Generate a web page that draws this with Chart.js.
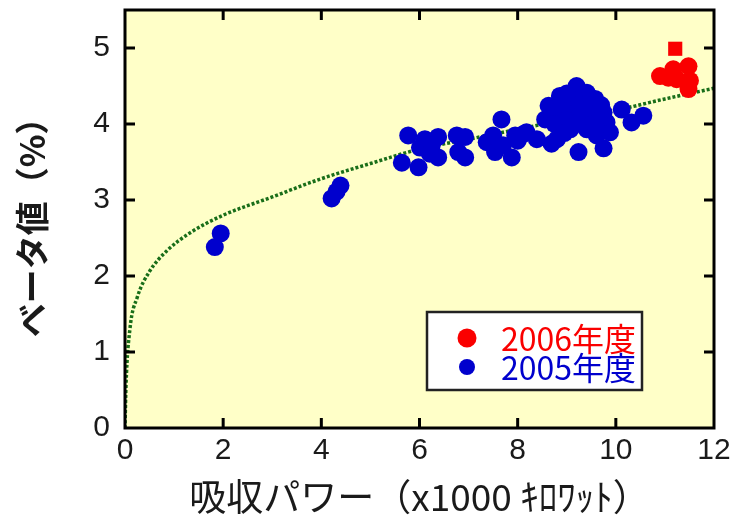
<!DOCTYPE html>
<html>
<head>
<meta charset="utf-8">
<script src="https://cdn.jsdelivr.net/npm/chart.js@4.4.1/dist/chart.umd.min.js"></script>
<style>
  html, body { margin: 0; padding: 0; background: #fff; }
  #wrap { width: 739px; height: 529px; }
</style>
</head>
<body>
<div id="wrap"><canvas id="betaChart"></canvas></div>
<script>
// data
const xTicks = [0, 2, 4, 6, 8, 10, 12];
const yTicks = [0, 1, 2, 3, 4, 5];

const labels2006 = '2006年度';
const labels2005 = '2005年度';

const redX = [10.90, 11.07, 11.17, 11.24, 11.48, 11.51, 11.48];
const redY = [4.63, 4.61, 4.72, 4.59, 4.76, 4.57, 4.46];

const squareX = [11.21];
const squareY = [4.99];

const blueX = [1.83, 1.95,
    4.21, 4.31, 4.39,
    5.77, 5.64, 5.98, 6.11, 6.38, 6.21, 6.38, 6.01, 6.25, 6.76, 6.93, 6.79, 6.93,
    7.37, 7.67, 7.54, 7.88, 7.95, 8.18, 8.39, 7.50, 7.70, 8.00, 8.12,
    8.69, 8.80, 8.63, 8.86, 9.00, 9.20, 9.41, 9.58, 9.75, 9.81, 9.41, 9.07, 8.86, 8.56,
    9.27, 9.61, 9.24, 9.75, 9.88, 9.10, 9.30, 9.50, 8.70,
    8.90, 9.00, 9.20, 9.35, 9.50, 9.65, 9.15, 8.75, 9.00, 9.60, 9.70, 8.95,
    10.12, 10.32, 10.56];
const blueY = [2.38, 2.56,
    3.02, 3.11, 3.19,
    3.85, 3.49, 3.43, 3.80, 3.83, 3.61, 3.56, 3.69, 3.72, 3.85, 3.83, 3.63, 3.56,
    3.76, 4.06, 3.63, 3.56, 3.85, 3.89, 3.80, 3.85, 3.72, 3.78, 3.87,
    3.74, 3.80, 4.24, 4.37, 4.19, 4.50, 4.41, 4.33, 4.15, 4.02, 3.93, 3.93, 3.98, 4.06,
    4.15, 3.85, 3.63, 3.68, 3.89, 4.30, 4.28, 4.10, 4.10,
    4.25, 4.05, 4.00, 4.20, 4.25, 4.05, 4.35, 4.00, 4.40, 3.95, 4.25, 3.88,
    4.19, 4.02, 4.11];

// fitted curve, sampled by eye
const fitX = [0, 0.02, 0.1, 0.25, 0.5, 0.85, 1.33, 2, 3, 4, 5, 6, 7, 8, 9, 10, 11, 12];
const fitY = [0, 0.55, 1.3, 1.72, 2.06, 2.33, 2.57, 2.8, 3.04, 3.28, 3.48, 3.67, 3.8, 3.93, 4.06, 4.18, 4.33, 4.47];

const toPoints = (xs, ys) => xs.map((x, i) => ({ x: x, y: ys[i] }));

const RED = 'rgb(250, 0, 0)';
const BLUE = 'rgb(0, 0, 205)';
const GREEN = 'rgb(25, 110, 25)';
const TICK_FONT = { family: '"Liberation Sans", Arial, sans-serif', size: 30 };

// yellow plot background
const plotBackground = {
    id: 'plotBackground',
    beforeDraw(chart) {
        const { ctx, chartArea: a } = chart;
        ctx.save();
        ctx.fillStyle = 'rgb(255, 255, 200)';
        ctx.fillRect(a.left, a.top, a.right - a.left, a.bottom - a.top);
        ctx.restore();
    }
};

// black frame with inward tick marks on all four sides
const frameTicks = {
    id: 'frameTicks',
    afterDatasetsDraw(chart) {
        const { ctx, chartArea: a, scales } = chart;
        const len = 10;
        ctx.save();
        ctx.strokeStyle = '#000';
        ctx.lineWidth = 3;
        xTicks.forEach(v => {
            if (v === xTicks[0] || v === xTicks[xTicks.length - 1]) return;
            const px = scales.x.getPixelForValue(v);
            ctx.beginPath();
            ctx.moveTo(px, a.bottom); ctx.lineTo(px, a.bottom - len);
            ctx.moveTo(px, a.top); ctx.lineTo(px, a.top + len);
            ctx.stroke();
        });
        yTicks.forEach(v => {
            if (v === 0) return;
            const py = scales.y.getPixelForValue(v);
            ctx.beginPath();
            ctx.moveTo(a.left, py); ctx.lineTo(a.left + len, py);
            ctx.moveTo(a.right, py); ctx.lineTo(a.right - len, py);
            ctx.stroke();
        });
        ctx.strokeRect(a.left, a.top, a.right - a.left, a.bottom - a.top);
        ctx.restore();
    }
};

// boxed legend in the lower right of the plot
const boxLegend = {
    id: 'boxLegend',
    afterDraw(chart) {
        const { ctx, chartArea: a } = chart;
        const items = chart.data.datasets.filter(d => d.inLegend);
        const w = 215, h = 78;
        const x0 = a.right - 72 - w, y0 = a.bottom - 38 - h;
        ctx.save();
        ctx.fillStyle = '#fff';
        ctx.fillRect(x0, y0, w, h);
        ctx.strokeStyle = '#222';
        ctx.lineWidth = 2.5;
        ctx.strokeRect(x0, y0, w, h);
        ctx.font = '32px "Liberation Sans Narrow", "Noto Sans CJK JP", sans-serif';
        ctx.textBaseline = 'middle';
        items.forEach((d, i) => {
            const cy = y0 + 26 + i * 29;
            ctx.fillStyle = d.backgroundColor;
            ctx.beginPath();
            ctx.arc(x0 + 40, cy, d.legendRadius, 0, Math.PI * 2);
            ctx.fill();
            ctx.fillText(d.label, x0 + 74, cy + 1);
        });
        ctx.restore();
    }
};

// drop the automatic label padding so the plot frame fills the layout padding
const noLabelPadding = scale => {
    scale.paddingTop = 0;
    scale.paddingBottom = 0;
    scale.paddingLeft = 0;
    scale.paddingRight = 0;
};

document.addEventListener('DOMContentLoaded', () => {
    const ctx = document.getElementById('betaChart').getContext('2d');
    new Chart(ctx, {
        type: 'scatter',
        data: {
            datasets: [
                {
                    label: labels2006,
                    inLegend: true,
                    legendRadius: 9.5,
                    data: toPoints(redX, redY),
                    backgroundColor: RED,
                    borderColor: RED,
                    pointRadius: 9,
                    borderWidth: 0
                },
                {
                    label: labels2006 + ' ',
                    data: toPoints(squareX, squareY),
                    backgroundColor: RED,
                    borderColor: RED,
                    pointStyle: 'rect',
                    pointRadius: 10,
                    borderWidth: 0
                },
                {
                    label: labels2005,
                    inLegend: true,
                    legendRadius: 8,
                    data: toPoints(blueX, blueY),
                    backgroundColor: BLUE,
                    borderColor: BLUE,
                    pointRadius: 9,
                    borderWidth: 0
                },
                {
                    label: 'fit',
                    type: 'line',
                    data: toPoints(fitX, fitY),
                    borderColor: GREEN,
                    borderWidth: 3.5,
                    borderDash: [3, 2],
                    pointRadius: 0,
                    fill: false,
                    cubicInterpolationMode: 'monotone'
                }
            ]
        },
        options: {
            responsive: true,
            maintainAspectRatio: false,
            animation: false,
            layout: { padding: { left: 0, right: 25, top: 8, bottom: 0 } },
            plugins: {
                legend: { display: false },
                tooltip: { enabled: false }
            },
            scales: {
                x: {
                    type: 'linear',
                    min: 0,
                    max: 12,
                    afterBuildTicks: scale => { scale.ticks = xTicks.map(v => ({ value: v })); },
                    afterFit: scale => { scale.height = 101; noLabelPadding(scale); },
                    grid: { display: false, drawTicks: false },
                    border: { display: false },
                    ticks: { font: TICK_FONT, color: '#1a1a1a', padding: 5, maxRotation: 0 },
                    title: {
                        display: true,
                        text: '吸収パワー（x1000 ｷﾛﾜｯﾄ）',
                        font: { family: '"Noto Sans CJK JP", sans-serif', size: 37 },
                        color: '#1a1a1a',
                        padding: { top: 0, bottom: 10 }
                    }
                },
                y: {
                    type: 'linear',
                    min: 0,
                    max: 5.5,
                    afterBuildTicks: scale => { scale.ticks = yTicks.map(v => ({ value: v })); },
                    afterFit: scale => { scale.width = 125; noLabelPadding(scale); },
                    grid: { display: false, drawTicks: false },
                    border: { display: false },
                    ticks: { font: TICK_FONT, color: '#1a1a1a', padding: 15 },
                    title: {
                        display: true,
                        text: 'ベータ値（%）',
                        font: { family: '"Noto Sans CJK JP", sans-serif', size: 34, weight: 'bold' },
                        color: '#1a1a1a',
                        padding: { top: 12, bottom: 0 }
                    }
                }
            }
        },
        plugins: [plotBackground, frameTicks, boxLegend]
    });
});
</script>
</body>
</html>
